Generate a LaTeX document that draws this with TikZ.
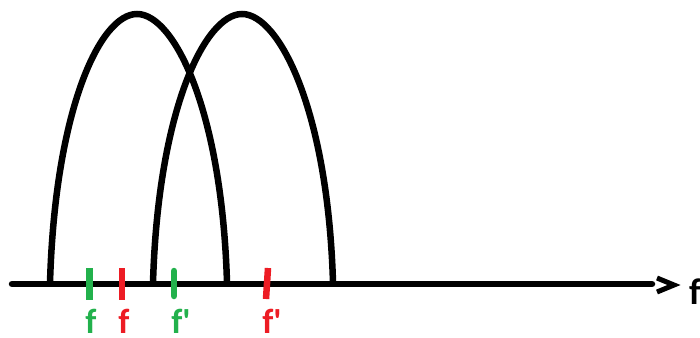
\documentclass[tikz,border=0pt]{standalone}
\usepackage{fontspec}
\setmainfont{Carlito}
\definecolor{pgreen}{RGB}{34,177,76}
\definecolor{pred}{RGB}{237,28,36}
\begin{document}
\begin{tikzpicture}[x=1pt,y=-1pt,
  curve/.style={line width=6.5pt,black},
  tick/.style={line width=6.5pt},
  lab/.style={font=\bfseries\fontsize{35}{38}\selectfont,inner sep=0pt,anchor=base},
  axlab/.style={font=\bfseries\fontsize{37}{40}\selectfont,inner sep=0pt,anchor=base west}]
\useasboundingbox (0,0) rectangle (700,337);
% axis
\coordinate (ax0) at (12,284);
\coordinate (ax1) at (652,284);
\draw[curve,line cap=round] (ax0) -- (ax1);
\draw[line width=5pt,miter limit=10] (657,278) -- (674,285) -- (657,292);
\node[axlab] (fx) at (689,304) {f};
% arches
\draw[curve] (50,283) .. controls (55,110) and (100,14) .. (137,14)
  .. controls (174,14) and (222,110) .. (227,283);
\draw[curve] (153,283) .. controls (158,110) and (205,14) .. (242,14)
  .. controls (279,14) and (328,110) .. (333,283);
% ticks
\draw[tick,pgreen] (89.5,268) -- (89.5,300);
\draw[tick,pred] (122,268) -- (122,300);
\draw[tick,pgreen,line cap=round] (174,271) -- (174,296);
\draw[tick,pred] (268,268) -- (266,299);
% labels
\node[lab,text=pgreen] (l1) at (91,333) {f};
\node[lab,text=pred] (l2) at (124,333) {f};
\node[lab,text=pgreen] (l3) at (181,333) {f\textquotesingle};
\node[lab,text=pred] (l4) at (272,333) {f\textquotesingle};
\end{tikzpicture}
\end{document}
